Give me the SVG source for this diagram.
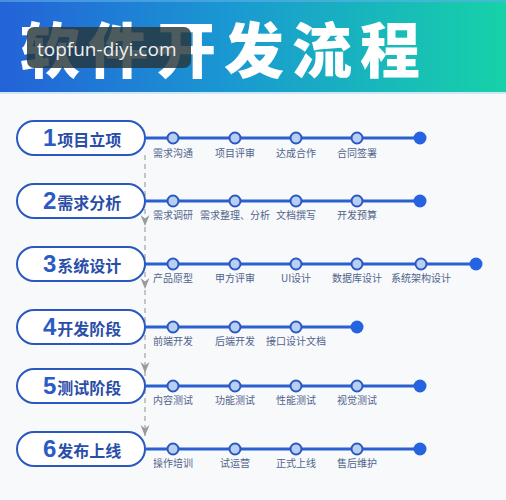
<svg xmlns="http://www.w3.org/2000/svg" width="506" height="500" viewBox="0 0 506 500">
<defs>
<linearGradient id="hdr" x1="0" y1="0" x2="1" y2="0">
<stop offset="0" stop-color="#2462d8"/>
<stop offset="0.45" stop-color="#1a98d2"/>
<stop offset="1" stop-color="#16d2a8"/>
</linearGradient>
<style>
.pill{fill:#ffffff;stroke:#2a58c0;stroke-width:2}
.num{font-family:"Liberation Sans",Arial,sans-serif;font-weight:bold;font-size:24px;fill:#2a5cc4}
.ttl{font-family:"Noto Sans CJK SC","Noto Sans",sans-serif;font-weight:bold;font-size:16px;fill:#2a4ea8}
.line{stroke:#2a60d0;stroke-width:3;fill:none}
.dot{fill:#b9cff2;stroke:#2a58c0;stroke-width:2}
.end{fill:#2563e0}
.lbl{font-family:"Noto Sans CJK SC","Noto Sans",sans-serif;font-size:10px;fill:#50648c;text-anchor:middle}
.dash{stroke:#a8a8a8;stroke-width:1.3;stroke-dasharray:5 4;fill:none}
.arr{fill:#9a9a9a}
</style>
</defs>
<rect x="0" y="0" width="506" height="500" fill="#f8f9fb"/>
<g id="header">
<rect x="0" y="0" width="506" height="93" fill="url(#hdr)"/>
<rect x="0" y="0" width="506" height="2" fill="#5fb0e8" opacity="0.6"/>
<rect x="0" y="92" width="506" height="2" fill="#cfe6f6"/>
<text x="20" y="73" font-family="'Noto Sans CJK SC',sans-serif" font-weight="900" font-size="60" letter-spacing="8" fill="#ffffff">软件开发流程</text>
</g>
<g id="watermark">
<rect x="27" y="27" width="164" height="41" rx="7" fill="#26363a" opacity="0.82"/>
<text x="37" y="56" font-family="'Open Sans','Liberation Sans',sans-serif" font-size="19" fill="#f0f0f0">topfun-diyi.com</text>
</g>
<g id="connectors">
<line class="dash" x1="145" y1="155" x2="145" y2="436"/>
<path class="arr" d="M140.5,215 L145,218.5 L149.5,215 L145,226 Z"/>
<path class="arr" d="M140.5,278 L145,281.5 L149.5,278 L145,289 Z"/>
<path class="arr" d="M140.5,362 L145,365.5 L149.5,362 L145,373 Z"/>
<path class="arr" d="M140.5,425 L145,428.5 L149.5,425 L145,436 Z"/>
</g>
<g id="stage1">
<rect class="pill" x="17" y="121" width="128" height="34" rx="17"/>
<text x="43" y="146"><tspan class="num">1</tspan><tspan class="ttl" dx="1">项目立项</tspan></text>
<line class="line" x1="145" y1="138" x2="420" y2="138"/>
<circle class="dot" cx="173" cy="138" r="5.5"/><circle class="dot" cx="235" cy="138" r="5.5"/><circle class="dot" cx="296" cy="138" r="5.5"/><circle class="dot" cx="357" cy="138" r="5.5"/><circle class="end" cx="420" cy="138" r="6.5"/>
<text class="lbl" x="173" y="157">需求沟通</text><text class="lbl" x="235" y="157">项目评审</text><text class="lbl" x="296" y="157">达成合作</text><text class="lbl" x="357" y="157">合同签署</text>
</g>
<g id="stage2">
<rect class="pill" x="17" y="184" width="128" height="34" rx="17"/>
<text x="43" y="209"><tspan class="num">2</tspan><tspan class="ttl" dx="1">需求分析</tspan></text>
<line class="line" x1="145" y1="201" x2="420" y2="201"/>
<circle class="dot" cx="173" cy="201" r="5.5"/><circle class="dot" cx="235" cy="201" r="5.5"/><circle class="dot" cx="296" cy="201" r="5.5"/><circle class="dot" cx="357" cy="201" r="5.5"/><circle class="end" cx="420" cy="201" r="6.5"/>
<text class="lbl" x="173" y="219">需求调研</text><text class="lbl" x="235" y="219">需求整理、分析</text><text class="lbl" x="296" y="219">文档撰写</text><text class="lbl" x="357" y="219">开发预算</text>
</g>
<g id="stage3">
<rect class="pill" x="17" y="247" width="128" height="34" rx="17"/>
<text x="43" y="272"><tspan class="num">3</tspan><tspan class="ttl" dx="1">系统设计</tspan></text>
<line class="line" x1="145" y1="264" x2="476" y2="264"/>
<circle class="dot" cx="173" cy="264" r="5.5"/><circle class="dot" cx="235" cy="264" r="5.5"/><circle class="dot" cx="296" cy="264" r="5.5"/><circle class="dot" cx="357" cy="264" r="5.5"/><circle class="dot" cx="421" cy="264" r="5.5"/><circle class="end" cx="476" cy="264" r="6.5"/>
<text class="lbl" x="173" y="282">产品原型</text><text class="lbl" x="235" y="282">甲方评审</text><text class="lbl" x="296" y="282">UI设计</text><text class="lbl" x="357" y="282">数据库设计</text><text class="lbl" x="421" y="282">系统架构设计</text>
</g>
<g id="stage4">
<rect class="pill" x="17" y="310" width="128" height="34" rx="17"/>
<text x="43" y="335"><tspan class="num">4</tspan><tspan class="ttl" dx="1">开发阶段</tspan></text>
<line class="line" x1="145" y1="327" x2="357" y2="327"/>
<circle class="dot" cx="173" cy="327" r="5.5"/><circle class="dot" cx="235" cy="327" r="5.5"/><circle class="dot" cx="296" cy="327" r="5.5"/><circle class="end" cx="357" cy="327" r="6.5"/>
<text class="lbl" x="173" y="345">前端开发</text><text class="lbl" x="235" y="345">后端开发</text><text class="lbl" x="296" y="345">接口设计文档</text>
</g>
<g id="stage5">
<rect class="pill" x="17" y="369" width="128" height="34" rx="17"/>
<text x="43" y="394"><tspan class="num">5</tspan><tspan class="ttl" dx="1">测试阶段</tspan></text>
<line class="line" x1="145" y1="386" x2="420" y2="386"/>
<circle class="dot" cx="173" cy="386" r="5.5"/><circle class="dot" cx="235" cy="386" r="5.5"/><circle class="dot" cx="296" cy="386" r="5.5"/><circle class="dot" cx="357" cy="386" r="5.5"/><circle class="end" cx="420" cy="386" r="6.5"/>
<text class="lbl" x="173" y="404">内容测试</text><text class="lbl" x="235" y="404">功能测试</text><text class="lbl" x="296" y="404">性能测试</text><text class="lbl" x="357" y="404">视觉测试</text>
</g>
<g id="stage6">
<rect class="pill" x="17" y="432" width="128" height="34" rx="17"/>
<text x="43" y="457"><tspan class="num">6</tspan><tspan class="ttl" dx="1">发布上线</tspan></text>
<line class="line" x1="145" y1="449" x2="420" y2="449"/>
<circle class="dot" cx="173" cy="449" r="5.5"/><circle class="dot" cx="235" cy="449" r="5.5"/><circle class="dot" cx="296" cy="449" r="5.5"/><circle class="dot" cx="357" cy="449" r="5.5"/><circle class="end" cx="420" cy="449" r="6.5"/>
<text class="lbl" x="173" y="467">操作培训</text><text class="lbl" x="235" y="467">试运营</text><text class="lbl" x="296" y="467">正式上线</text><text class="lbl" x="357" y="467">售后维护</text>
</g>
</svg>
